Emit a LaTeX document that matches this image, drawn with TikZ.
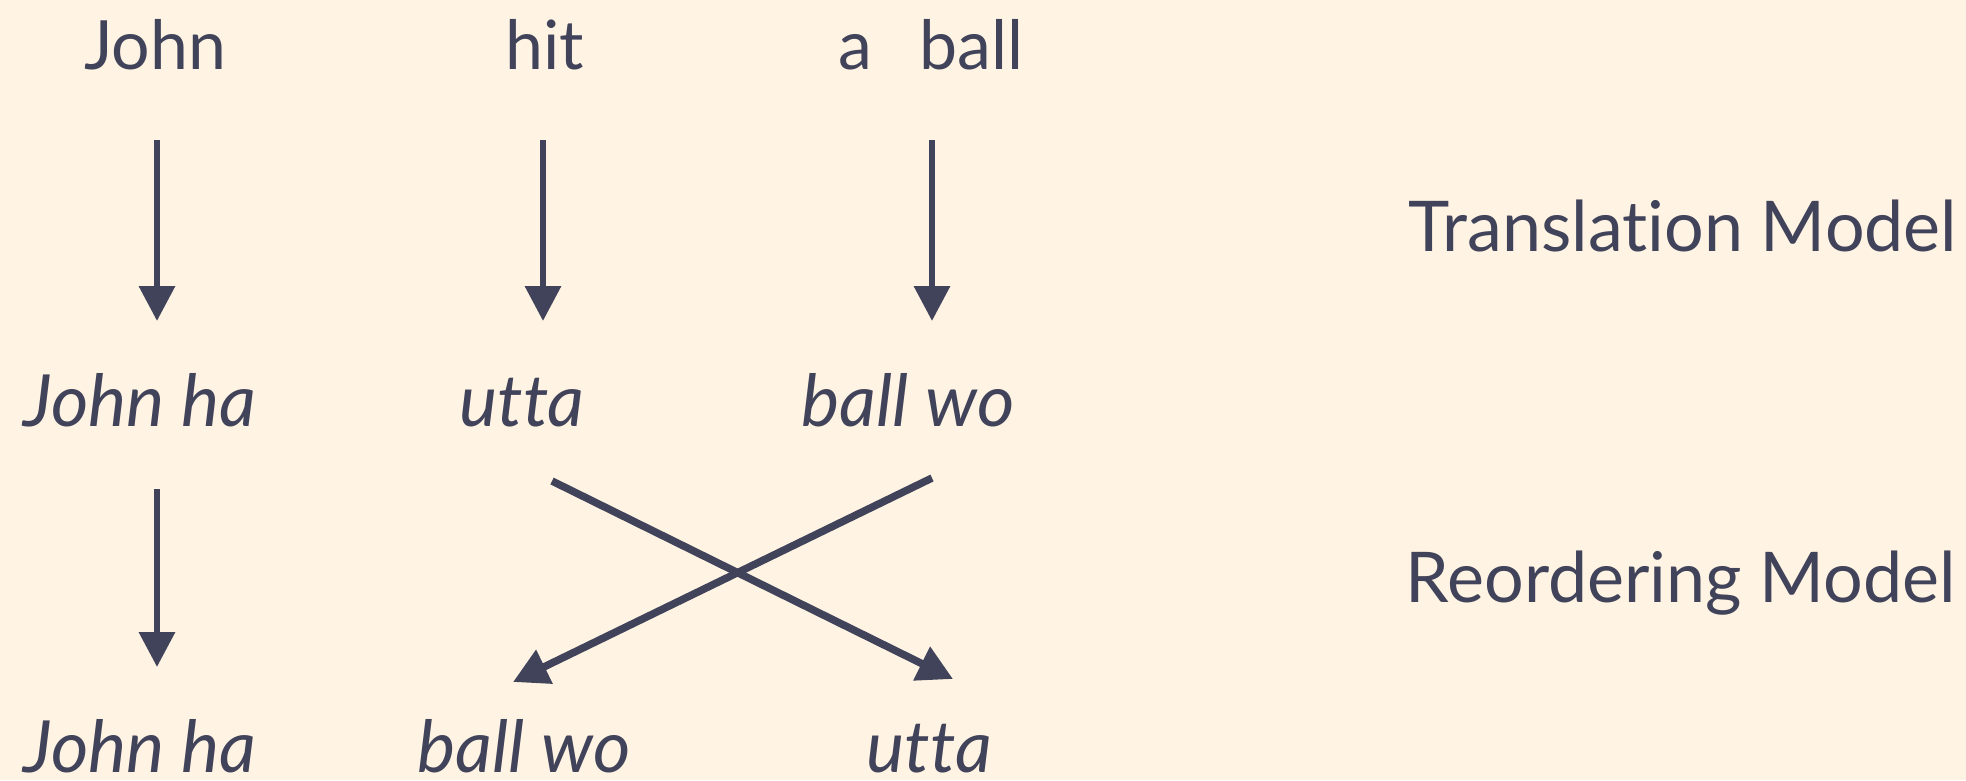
\documentclass[tikz,border=0pt]{standalone}
\usepackage{fontspec}
\setmainfont[RawFeature={-liga}]{Lato}
\usetikzlibrary{arrows.meta,calc}
\definecolor{bgc}{HTML}{FFF4E3}
\definecolor{ink}{HTML}{40435A}
\begin{document}
\begin{tikzpicture}[x=1pt,y=-1pt,
  word/.style={inner sep=0pt,anchor=base,text=ink,font=\fontsize{68}{74}\selectfont},
  iword/.style={inner sep=0pt,anchor=base,text=ink,font=\fontsize{72}{78}\selectfont\itshape},
  label/.style={inner sep=0pt,anchor=base,text=ink,font=\fontsize{70}{76}\selectfont},
  arr/.style={draw=ink,line width=6.5pt,-{Triangle[length=35pt,width=35pt]}},
  xarr/.style={draw=ink,line width=7.5pt,-{Triangle[length=35pt,width=36pt]}}]
\fill[bgc] (0,0) rectangle (1966,780);
\useasboundingbox (0,0) rectangle (1966,780);
% top row
\node[word] (j1) at (155,69) {John};
\node[word] (h1) at (545,69) {hit};
\node[word] (b1) at (931,69) {a\hspace{0.7em}ball};
% second row
\node[iword] (jh2) at (140,426) {John ha};
\node[iword] (ut2) at (522,426) {utta};
\node[iword] (bw2) at (908,426) {ball wo};
% third row
\node[iword] (jh3) at (140,772) {John ha};
\node[iword] (bw3) at (524,772) {ball wo};
\node[iword] (ut3) at (929,772) {utta};
% labels
\node[label] (tm) at (1683,251) {Translation Model};
\node[label] (rm) at (1681,602) {Reordering Model};
% translation arrows
\draw[arr] ($(j1.base)+(2,71)$) -- ($(j1.base |- jh2.base)+(2,-105)$);
\draw[arr] ($(h1.base)+(-2,71)$) -- ($(h1.base |- ut2.base)+(-2,-105)$);
\draw[arr] ($(b1.base)+(1,71)$) -- ($(b1.base |- bw2.base)+(1,-105)$);
% reordering arrows
\draw[arr] ($(j1.base |- jh2.base)+(2,63)$) -- ($(j1.base |- jh3.base)+(2,-105)$);
\draw[xarr] ($(ut2.base)+(30,55)$) -- ($(ut3.base)+(24,-93)$);
\draw[xarr] ($(bw2.base)+(24,52)$) -- ($(bw3.base)+(-11,-90)$);
\end{tikzpicture}
\end{document}
